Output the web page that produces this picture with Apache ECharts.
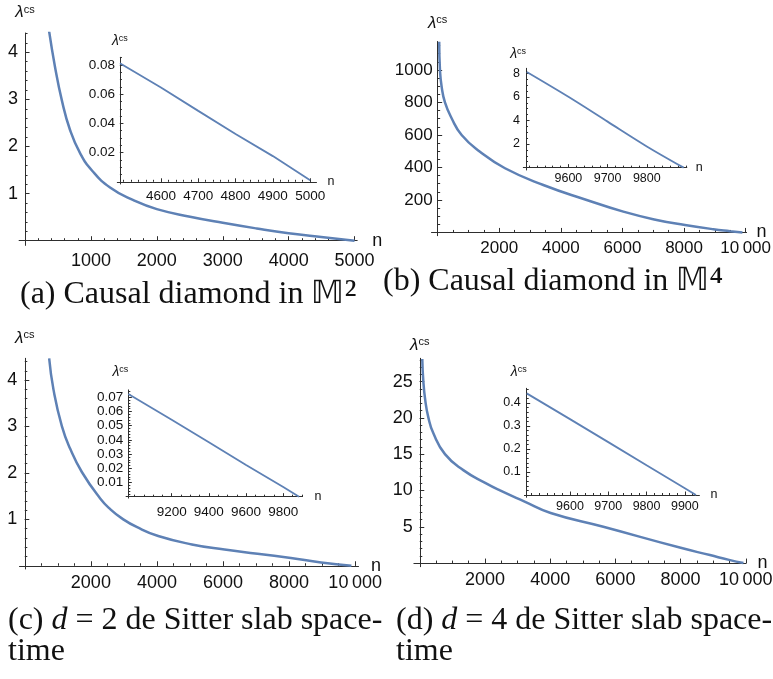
<!DOCTYPE html>
<html>
<head>
<meta charset="utf-8">
<script src="https://cdn.jsdelivr.net/npm/echarts@6.0.0/dist/echarts.min.js"></script>
<style>
html,body{margin:0;padding:0;background:#ffffff;}
#chart{width:773px;height:679px;}
</style>
</head>
<body>
<div id="chart"></div>
<script>
// ---------------- data ----------------
// (a) causal diamond in M^2
const nA   = [364, 455, 557, 683, 835, 1022, 1290, 1644, 2000, 2504, 3000, 3515, 4000, 4527, 5000];
const lamA = [4.46, 3.69, 2.99, 2.35, 1.86, 1.48, 1.13, 0.86, 0.67, 0.51, 0.38, 0.26, 0.16, 0.075, 0.001];
const nAi   = [4490, 4600, 4700, 4800, 4900, 5000];
const lamAi = [0.0812, 0.0646, 0.0486, 0.0328, 0.0176, 0.001];
// (b) causal diamond in M^4
const nB   = [50, 75, 129, 237, 453, 778, 1373, 2186, 3430, 4838, 6028, 7110, 8030, 8950, 9494, 9894];
const lamB = [1174, 1000, 897, 801, 703, 600, 497, 395, 292, 200, 128, 77, 46, 20, 8.1, 0];
const nBi   = [9494, 9600, 9700, 9800, 9894];
const lamBi = [8.1, 6.0, 3.9, 1.8, 0];
// (c) d = 2 de Sitter slab
const nC   = [738, 870, 1122, 1375, 1727, 2282, 2600, 2938, 3400, 4038, 5057, 6045, 7043, 8053, 8967, 9885];
const lamC = [4.47, 3.79, 3.01, 2.52, 2.02, 1.45, 1.21, 1.02, 0.83, 0.64, 0.46, 0.35, 0.26, 0.165, 0.072, 0];
const nCi   = [8967, 9200, 9400, 9600, 9800, 9885];
const lamCi = [0.0723, 0.0542, 0.0383, 0.0223, 0.0068, 0];
// (d) d = 4 de Sitter slab
const nD   = [77, 107, 169, 261, 414, 773, 1335, 2021, 2460, 3200, 4015, 5630, 8003, 8902, 9487, 9929];
const lamD = [28.1, 25.2, 22.4, 20.1, 17.9, 15.0, 12.8, 11.0, 10.0, 8.5, 6.9, 5.0, 2.1, 1.1, 0.442, 0];
const nDi   = [9487, 9600, 9700, 9800, 9900, 9929];
const lamDi = [0.442, 0.330, 0.230, 0.129, 0.029, 0];

// ---------------- tick labels ----------------
const xTicksA  = [1000, 2000, 3000, 4000, 5000];
const yTicksA  = [1, 2, 3, 4];
const xTicksAi = [4600, 4700, 4800, 4900, 5000];
const yTicksAi = [0.02, 0.04, 0.06, 0.08];
const xTicksB  = [2000, 4000, 6000, 8000, 10000];
const yTicksB  = [200, 400, 600, 800, 1000];
const xTicksBi = [9600, 9700, 9800];
const yTicksBi = [2, 4, 6, 8];
const xTicksC  = [2000, 4000, 6000, 8000, 10000];
const yTicksC  = [1, 2, 3, 4];
const xTicksCi = [9200, 9400, 9600, 9800];
const yTicksCi = [0.01, 0.02, 0.03, 0.04, 0.05, 0.06, 0.07];
const xTicksD  = [2000, 4000, 6000, 8000, 10000];
const yTicksD  = [5, 10, 15, 20, 25];
const xTicksDi = [9600, 9700, 9800, 9900];
const yTicksDi = [0.1, 0.2, 0.3, 0.4];

// ---------------- captions ----------------
const captionA = '(a) Causal diamond in 𝕄{s|²}';
const captionB = '(b) Causal diamond in 𝕄{s|⁴}';
const captionC = '(c) {i|d} = 2 de Sitter slab space-\ntime';
const captionD = '(d) {i|d} = 4 de Sitter slab space-\ntime';

// ---------------- helpers ----------------
function steps(a, b, s) {
  const out = [];
  const k = Math.round((b - a) / s);
  for (let i = 0; i <= k; i++) out.push(+(a + i * s).toFixed(6));
  return out;
}
function fmt(v) {
  if (Math.abs(v - 10000) < 1e-9) return '10\u2009000';
  return String(+(+v).toFixed(6));
}

const panels = [
  { n: nA, lam: lamA, grid: {left: 19.1, top: 33.0, width: 338.1, height: 212.4},
    x: {min: -90, max: 5040, major: xTicksA, minor: steps(200, 5000, 200)},
    y: {min: -0.1, max: 4.41, major: yTicksA, minor: steps(0.2, 4.4, 0.2)},
    cross: 0, fs: 18, xm: 11, ym: 7, lw: 2.5, tl: 4.5, tl2: 2.5, smooth: 0.5,
    nameY: {gap: 12, align: 'center', big: 17, small: 11}, nameX: {gap: 15, size: 18} },
  { n: nAi, lam: lamAi, grid: {left: 117.3, top: 57.3, width: 199.2, height: 126.7},
    x: {min: 4483, max: 5017, major: xTicksAi, minor: steps(4500, 5000, 20)},
    y: {min: -0.0015, max: 0.0853, major: yTicksAi, minor: steps(0.005, 0.085, 0.005)},
    cross: 4490, fs: 13.5, xm: 7.5, ym: 5, lw: 1.8, tl: 3.5, tl2: 2, smooth: false,
    nameY: {gap: 9.5, align: 'center', big: 14, small: 9}, nameX: {gap: 11, size: 12.5} },
  { n: nB, lam: lamB, grid: {left: 431.5, top: 41.5, width: 315.1, height: 194.2},
    x: {min: -200, max: 10030, major: xTicksB, minor: steps(500, 10000, 500)},
    y: {min: -20, max: 1175, major: yTicksB, minor: steps(50, 1150, 50)},
    cross: 0, fs: 17, xm: 7, ym: 5, lw: 2.5, tl: 4.5, tl2: 2.5, smooth: 0.5,
    nameY: {gap: 10, align: 'center', big: 17, small: 11}, nameX: {gap: 10, size: 18} },
  { n: nBi, lam: lamBi, grid: {left: 523.3, top: 68.3, width: 163.5, height: 101.7},
    x: {min: 9485, max: 9902, major: xTicksBi, minor: steps(9500, 9900, 20)},
    y: {min: -0.2, max: 8.42, major: yTicksBi, minor: steps(0.5, 8, 0.5)},
    cross: 9492, fs: 12.5, xm: 4, ym: 6, lw: 1.8, tl: 3.5, tl2: 2, smooth: 0.3,
    nameY: {gap: 7.5, align: 'right', big: 14, small: 9}, nameX: {gap: 9, size: 12.5} },
  { n: nC, lam: lamC, grid: {left: 19.5, top: 358.3, width: 339.0, height: 210.7},
    x: {min: -160, max: 10100, major: xTicksC, minor: steps(500, 10000, 500)},
    y: {min: -0.07, max: 4.47, major: yTicksC, minor: steps(0.2, 4.4, 0.2)},
    cross: 0, fs: 18, xm: 8.5, ym: 7.5, lw: 2.5, tl: 4.5, tl2: 2.5, smooth: 0.5,
    nameY: {gap: 12, align: 'center', big: 17, small: 11}, nameX: {gap: 12.5, size: 18} },
  { n: nCi, lam: lamCi, grid: {left: 126.1, top: 389.9, width: 176.5, height: 108.2},
    x: {min: 8955, max: 9904, major: xTicksCi, minor: steps(9000, 9900, 50)},
    y: {min: -0.001, max: 0.0752, major: yTicksCi, minor: steps(0.002, 0.074, 0.002)},
    cross: 8967, fs: 13.5, xm: 8.5, ym: 5, lw: 1.8, tl: 3.5, tl2: 2, smooth: false,
    nameY: {gap: 10.5, align: 'right', big: 14, small: 9}, nameX: {gap: 12, size: 12.5} },
  { n: nD, lam: lamD, grid: {left: 413.9, top: 358.3, width: 332.2, height: 208.4},
    x: {min: -180, max: 10010, major: xTicksD, minor: steps(500, 10000, 500)},
    y: {min: -0.5, max: 28.2, major: yTicksD, minor: steps(1, 28, 1)},
    cross: 0, fs: 18, xm: 7.5, ym: 7, lw: 2.5, tl: 4.5, tl2: 2.5, smooth: 0.5,
    nameY: {gap: 5, align: 'center', big: 17, small: 11}, nameX: {gap: 11.5, size: 18} },
  { n: nDi, lam: lamDi, grid: {left: 524.4, top: 388.3, width: 175.0, height: 109},
    x: {min: 9481, max: 9938, major: xTicksDi, minor: steps(9500, 9920, 20)},
    y: {min: -0.01, max: 0.464, major: yTicksDi, minor: steps(0.02, 0.46, 0.02)},
    cross: 9487, fs: 12.5, xm: 5, ym: 6, lw: 1.8, tl: 3.5, tl2: 2, smooth: false,
    nameY: {gap: 9.5, align: 'right', big: 14, small: 9}, nameX: {gap: 11, size: 12.5} }
];

const AXIS_COLOR = '#2e2e2e';
const TEXT_COLOR = '#111111';
const LINE_COLOR = '#5E81B5';

const option = {
  animation: false,
  backgroundColor: '#ffffff',
  textStyle: {fontFamily: 'Liberation Sans'},
  grid: [], xAxis: [], yAxis: [], series: [],
  graphic: []
};

panels.forEach(function (p, gi) {
  option.grid.push(Object.assign({containLabel: false, outerBoundsMode: 'none', show: false}, p.grid));
  const pxX = p.grid.width / (p.x.max - p.x.min);
  const pxY = p.grid.height / (p.y.max - p.y.min);
  const xOff = p.y.min * pxY;                 // moves x axis up to y = 0
  const yOff = -(p.cross - p.x.min) * pxX;    // moves y axis right to the crossing
  const lineStyle = {color: AXIS_COLOR, width: 1};
  function mk(dim, major) {
    const a = dim === 'x' ? p.x : p.y;
    const o = {
      type: 'value', gridIndex: gi, min: a.min, max: a.max,
      position: dim === 'x' ? 'bottom' : 'left',
      offset: dim === 'x' ? xOff : yOff,
      splitLine: {show: false}, splitArea: {show: false},
      minorTick: {show: false}, minorSplitLine: {show: false},
      axisLine: {show: major, onZero: false, lineStyle: lineStyle},
      axisTick: {show: true, inside: true, length: major ? p.tl : p.tl2,
                 customValues: major ? a.major : a.minor, lineStyle: lineStyle},
      axisLabel: {show: major, customValues: a.major, formatter: fmt, fontSize: p.fs,
                  color: TEXT_COLOR, fontFamily: 'Liberation Sans',
                  margin: dim === 'x' ? p.xm : p.ym, hideOverlap: false},
      axisPointer: {show: false},
      nameMoveOverlap: false
    };
    if (major && dim === 'y') {
      o.name = '{l|λ}{s|cs}';
      o.nameLocation = 'end';
      o.nameGap = p.nameY.gap;
      o.nameTextStyle = {
        align: p.nameY.align, verticalAlign: 'bottom',
        rich: {
          l: {fontSize: p.nameY.big, fontStyle: 'italic', fontFamily: 'Liberation Sans', color: TEXT_COLOR},
          s: {fontSize: p.nameY.small, fontFamily: 'Liberation Sans', color: TEXT_COLOR, verticalAlign: 'top'}
        }
      };
    }
    if (major && dim === 'x') {
      o.name = 'n';
      o.nameLocation = 'end';
      o.nameGap = p.nameX.gap;
      o.nameTextStyle = {fontSize: p.nameX.size, fontFamily: 'Liberation Sans', color: TEXT_COLOR,
                         verticalAlign: 'middle', align: 'left'};
    }
    return o;
  }
  const xi = option.xAxis.length;
  const yi = option.yAxis.length;
  option.xAxis.push(mk('x', true), mk('x', false));
  option.yAxis.push(mk('y', true), mk('y', false));
  option.series.push({
    type: 'line', xAxisIndex: xi, yAxisIndex: yi,
    data: p.n.map(function (v, k) { return [v, p.lam[k]]; }),
    symbol: 'none', showSymbol: false, smooth: p.smooth,
    lineStyle: {color: LINE_COLOR, width: p.lw}, clip: true, silent: true, z: 3
  });
});

const capStyle = {fontFamily: 'Liberation Serif', fontSize: 32, lineHeight: 31, fill: TEXT_COLOR,
  rich: {
    i: {fontFamily: 'Liberation Serif', fontSize: 32, lineHeight: 31, fontStyle: 'italic', fill: TEXT_COLOR},
    s: {fontFamily: 'Liberation Serif', fontSize: 40, lineHeight: 31, fill: TEXT_COLOR}
  }};
option.graphic = [
  {type: 'text', left: 20, top: 275, style: Object.assign({text: captionA}, capStyle)},
  {type: 'text', left: 383, top: 262, style: Object.assign({text: captionB}, capStyle)},
  {type: 'text', left: 8, top: 605, style: Object.assign({text: captionC}, capStyle)},
  {type: 'text', left: 396, top: 605, style: Object.assign({text: captionD}, capStyle)}
];

const chart = echarts.init(document.getElementById('chart'), null, {renderer: 'canvas', width: 773, height: 679});
chart.setOption(option);
</script>
</body>
</html>
